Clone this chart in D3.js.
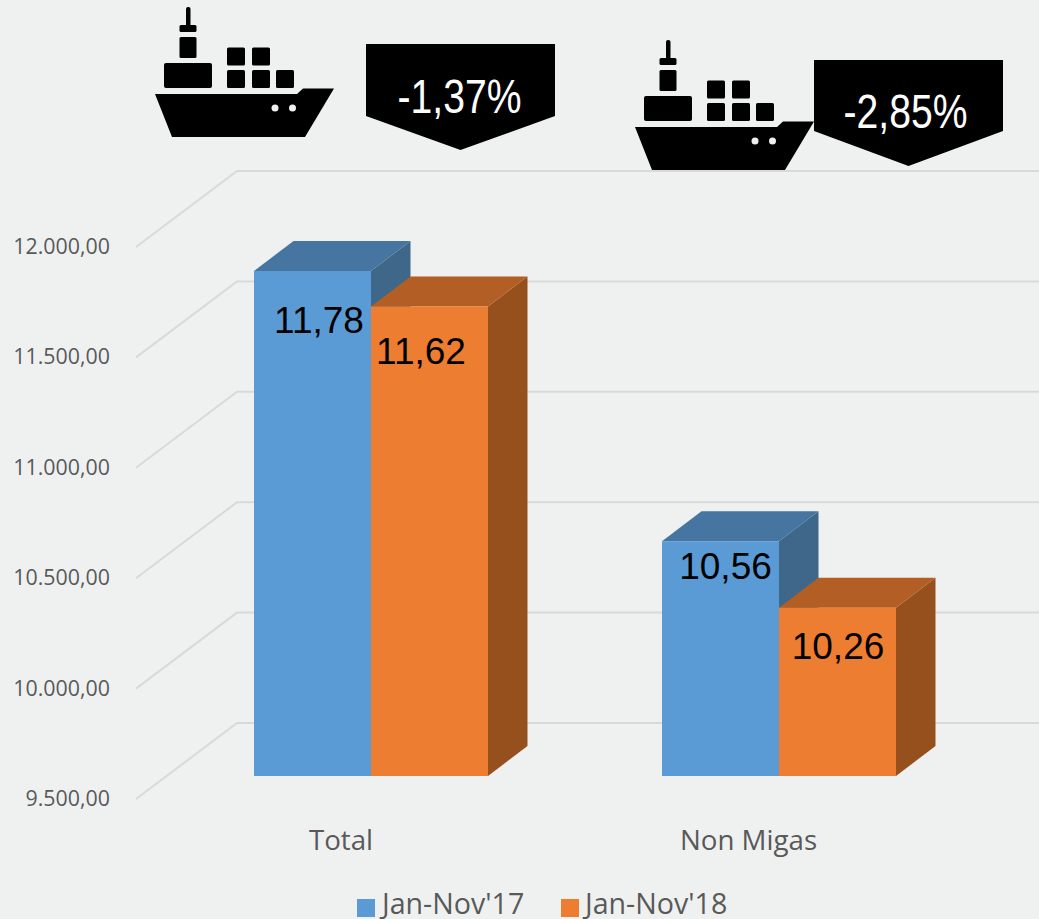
<!DOCTYPE html>
<html><head><meta charset="utf-8">
<script src="https://cdn.jsdelivr.net/npm/d3@7"></script>
<style>html,body{margin:0;padding:0;background:#eff1f1}svg{display:block}</style>
</head><body><svg id="c" width="1039" height="919"></svg>
<script>
const categories = ["Total", "Non Migas"];
const seriesNames = ["Jan-Nov'17", "Jan-Nov'18"];
const values17 = [11780, 10560];
const values18 = [11620, 10260];
const labels17 = ["11,78", "10,56"];
const labels18 = ["11,62", "10,26"];
const tickValues = [9500, 10000, 10500, 11000, 11500, 12000];
const tickLabels = ["9.500,00", "10.000,00", "10.500,00", "11.000,00", "11.500,00", "12.000,00"];
const changes = ["-1,37%", "-2,85%"];
const colors = ["#5b9bd5", "#ed7d31"];
const topColors = ["#4675a1", "#b25e24"];
const sideColors = ["#3e6789", "#96501e"];

const svg = d3.select("#c");
const W = 1039, H = 919;
svg.append("rect").attr("width", W).attr("height", H).attr("fill", "#eff1f1");

const yWall = d3.scaleLinear().domain([9500, 12000]).range([723, 171]);
const yBar = d3.scaleLinear().domain([9500, 11780]).range([776, 271]);
const gridCol = "#d9d9d9";
const wallDx = 101, wallDy = 76;

const grid = svg.append("g").attr("fill", "none").attr("stroke", gridCol).attr("stroke-width", 2);
tickValues.forEach(t => {
  const y = yWall(t);
  grid.append("path").attr("d", d3.line()([[237 - wallDx, y + wallDy], [237, y], [W, y]]));
});

svg.append("g").selectAll("text").data(tickValues).join("text")
  .attr("x", 110).attr("y", (d) => yWall(d) + wallDy + 7)
  .attr("text-anchor", "end").attr("font-family", "'Open Sans'").attr("font-size", 21.4)
  .attr("fill", "#595959").text((d, i) => tickLabels[i]);

const barW = 117, dx = 39.5, dy = 30;
const groupLeft = [254, 662];
const series = [values17, values18];
series.forEach((vals, s) => {
  const g = svg.append("g");
  vals.forEach((v, i) => {
    const x = groupLeft[i] + s * barW, y = yBar(v), b = 776;
    const r = x + barW;
    g.append("path").attr("fill", sideColors[s])
      .attr("d", d3.line()([[r, y], [r + dx, y - dy], [r + dx, b - dy], [r, b]]) + "Z");
    g.append("path").attr("fill", topColors[s])
      .attr("d", d3.line()([[x, y], [x + dx, y - dy], [r + dx, y - dy], [r, y]]) + "Z");
    g.append("rect").attr("x", x).attr("y", y).attr("width", barW).attr("height", b - y).attr("fill", colors[s]);
  });
});

const lab = [[labels17, [319, 725.5], [333, 579]], [labels18, [421, 838], [364, 659]]];
lab.forEach(([t, xs, ys]) => t.forEach((d, i) => {
  svg.append("text").attr("x", xs[i]).attr("y", ys[i]).attr("text-anchor", "middle")
    .attr("font-family", "'Liberation Sans'").attr("font-size", 37).attr("fill", "#000").text(d);
}));

svg.append("g").selectAll("text").data(categories).join("text")
  .attr("x", (d, i) => [341, 748.5][i]).attr("y", 850).attr("text-anchor", "middle")
  .attr("font-family", "'Open Sans'").attr("font-size", 27.7).attr("fill", "#595959").text(d => d);

[[357, 382], [561, 585]].forEach(([sx, tx], i) => {
  svg.append("rect").attr("x", sx).attr("y", 899).attr("width", 18).attr("height", 18).attr("fill", colors[i]);
  svg.append("text").attr("x", tx).attr("y", 913.5).attr("font-family", "'Open Sans'")
    .attr("font-size", 28.6).attr("fill", "#595959").text(seriesNames[i]);
});

function ship(tx, ty) {
  const g = svg.append("g").attr("transform", `translate(${tx},${ty})`).attr("fill", "#000");
  g.append("rect").attr("x", 186).attr("y", 7).attr("width", 4.5).attr("height", 20).attr("rx", 2);
  g.append("rect").attr("x", 179.5).attr("y", 25).attr("width", 17).attr("height", 7).attr("rx", 1.5);
  g.append("rect").attr("x", 179.5).attr("y", 37).attr("width", 17).attr("height", 21).attr("rx", 1.5);
  g.append("rect").attr("x", 164).attr("y", 63).attr("width", 48).attr("height", 25).attr("rx", 2);
  [[227, 47.5], [252, 47.5], [227, 70], [252, 70], [276, 70]].forEach(([x, y]) =>
    g.append("rect").attr("x", x).attr("y", y).attr("width", 18).attr("height", 18).attr("rx", 1.5));
  g.append("path").attr("d", "M155,94 L297,94 L303,88.5 L334,88.5 L305,137 L172,137 Z");
  g.append("circle").attr("cx", 275).attr("cy", 108).attr("r", 3.5).attr("fill", "#eff1f1");
  g.append("circle").attr("cx", 292.5).attr("cy", 108).attr("r", 3.5).attr("fill", "#eff1f1");
}
ship(0, 0);
ship(480, 33);

function callout(x0c, top, side, tip, txt, tx, by) {
  const x1 = x0c + 189, xm = x0c + 94.5;
  svg.append("path").attr("fill", "#000")
    .attr("d", d3.line()([[x0c, top], [x1, top], [x1, side], [xm, tip], [x0c, side]]) + "Z");
  svg.append("text").attr("x", tx).attr("y", by).attr("text-anchor", "middle")
    .attr("font-family", "'Liberation Sans'").attr("font-size", 49).attr("fill", "#fff")
    .attr("textLength", 124).attr("lengthAdjust", "spacingAndGlyphs").text(txt);
}
callout(366, 44, 116, 150, changes[0], 459.5, 113);
callout(814, 60, 131, 166, changes[1], 905.5, 128);
</script></body></html>
